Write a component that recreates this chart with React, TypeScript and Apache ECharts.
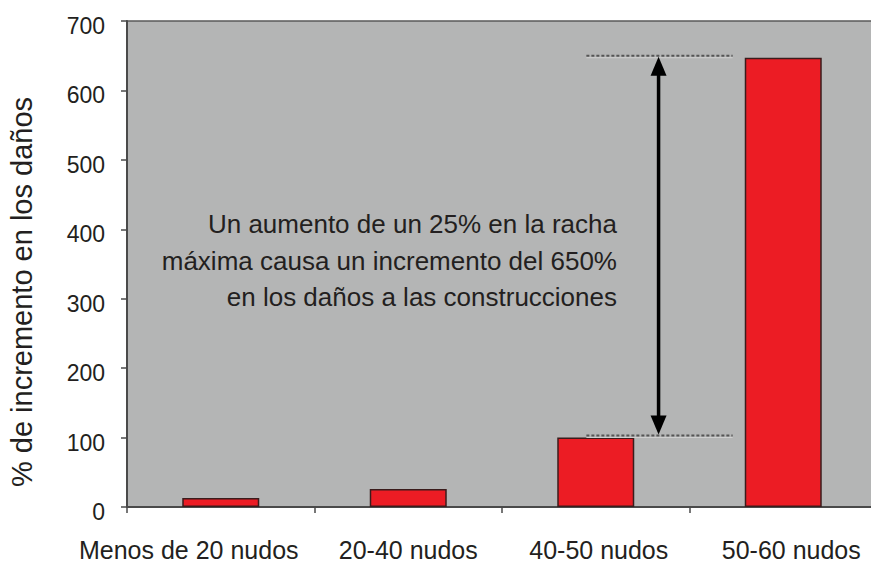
import React, { useEffect, useRef } from "react";
import * as echarts from "echarts";

const categories = ["Menos de 20 nudos", "20-40 nudos", "40-50 nudos", "50-60 nudos"];
const values = [13, 26, 100, 647];
const yTicks = [0, 100, 200, 300, 400, 500, 600, 700];
const annotationRange = [[2, 650, 103]]; // [category index, top value, bottom value]
const annotationLines = [
  "Un aumento de un 25% en la racha",
  "máxima causa un incremento del 650%",
  "en los daños a las construcciones",
];
const yAxisName = "% de incremento en los daños";

const FONT = "'Liberation Sans', Arial, Helvetica, sans-serif";
const TEXT = "#231f20";

export default function App() {
  const ref = useRef<HTMLDivElement>(null);
  useEffect(() => {
    const chart = echarts.init(ref.current!, undefined, { renderer: "svg" });
    const xl = { fontSize: 25, fontFamily: FONT, color: TEXT, lineHeight: 21 };
    chart.setOption({
      animation: false,
      backgroundColor: "#ffffff",
      textStyle: { fontFamily: FONT },
      grid: {
        left: 127,
        top: 21,
        right: -6,
        bottom: 57,
        containLabel: false,
        outerBoundsMode: "none",
        show: true,
        backgroundColor: "#b4b5b5",
        borderColor: "#5a5a5a",
        borderWidth: 1.5,
      },
      xAxis: {
        type: "category",
        data: categories,
        axisLine: { lineStyle: { color: "#4a4a4a", width: 2 } },
        axisTick: { show: true, length: 6, lineStyle: { color: "#4a4a4a", width: 1.5 } },
        axisLabel: {
          color: TEXT,
          fontSize: 25,
          lineHeight: 21,
          margin: 32,
          fontFamily: FONT,
          interval: 0,
          hideOverlap: false,
          overflow: "none",
          formatter: (v: string, i: number) => `{c${i}|${v}}`,
          rich: {
            c0: { ...xl, padding: [0, 64, 0, 0] },
            c1: { ...xl },
            c2: { ...xl, padding: [0, 0, 0, 6] },
            c3: { ...xl, padding: [0, 0, 0, 16] },
          },
        },
        splitLine: { show: false },
      },
      yAxis: {
        type: "value",
        min: yTicks[0],
        max: yTicks[yTicks.length - 1],
        interval: yTicks[1] - yTicks[0],
        name: yAxisName,
        nameLocation: "middle",
        nameGap: 91,
        nameRotate: 90,
        nameTextStyle: {
          color: TEXT,
          fontSize: 29,
          fontFamily: FONT,
          padding: [0, 56, 0, 0],
        },
        axisLine: { show: true, lineStyle: { color: "#4a4a4a", width: 2 } },
        axisTick: { show: true, length: 6, lineStyle: { color: "#4a4a4a", width: 1.5 } },
        axisLabel: {
          color: TEXT,
          fontSize: 23,
          margin: 22,
          fontFamily: FONT,
          formatter: (v: number) => `{v|${v}}`,
          rich: {
            v: { fontSize: 23, fontFamily: FONT, color: TEXT, padding: [10, 0, 0, 0] },
          },
        },
        splitLine: { show: false },
      },
      series: [
        {
          type: "bar",
          data: values,
          barWidth: 77,
          itemStyle: { color: "#ec1c24", borderColor: "#3a1c1c", borderWidth: 1.5 },
          z: 2,
        },
        {
          type: "custom",
          data: annotationRange,
          z: 5,
          renderItem: (params: any, api: any) => {
            const cat = api.value(0);
            const top = api.coord([cat, api.value(1)]);
            const bot = api.coord([cat, api.value(2)]);
            const w = api.size([1, 0])[0];
            const x0 = top[0] - 0.05 * w;
            const x1 = top[0] + 0.73 * w;
            const ax = top[0] + 0.335 * w;
            const headH = 20;
            const headW = 8;
            return {
              type: "group",
              children: [
                {
                  type: "line",
                  shape: { x1: x0, y1: top[1] + 2, x2: x1, y2: top[1] + 2 },
                  style: { stroke: "#d0d0d0", lineWidth: 1 },
                },
                {
                  type: "line",
                  shape: { x1: x0, y1: top[1], x2: x1, y2: top[1] },
                  style: { stroke: "#555555", lineWidth: 2, lineDash: [3, 2] },
                },
                {
                  type: "line",
                  shape: { x1: x0, y1: bot[1] + 2, x2: x1, y2: bot[1] + 2 },
                  style: { stroke: "#d0d0d0", lineWidth: 1 },
                },
                {
                  type: "line",
                  shape: { x1: x0, y1: bot[1], x2: x1, y2: bot[1] },
                  style: { stroke: "#555555", lineWidth: 2, lineDash: [3, 2] },
                },
                {
                  type: "line",
                  shape: { x1: ax, y1: top[1] + headH - 2, x2: ax, y2: bot[1] - headH + 2 },
                  style: { stroke: "#000000", lineWidth: 3.5 },
                },
                {
                  type: "polygon",
                  shape: {
                    points: [
                      [ax, top[1] + 1],
                      [ax - headW, top[1] + headH],
                      [ax + headW, top[1] + headH],
                    ],
                  },
                  style: { fill: "#000000" },
                },
                {
                  type: "polygon",
                  shape: {
                    points: [
                      [ax, bot[1] - 1],
                      [ax - headW, bot[1] - headH],
                      [ax + headW, bot[1] - headH],
                    ],
                  },
                  style: { fill: "#000000" },
                },
              ],
            };
          },
        },
      ],
      graphic: [
        {
          type: "text",
          x: 617,
          y: 206,
          z: 10,
          style: {
            text: annotationLines.join("\n"),
            align: "right",
            verticalAlign: "top",
            fontSize: 26,
            lineHeight: 36.5,
            fontFamily: FONT,
            fill: TEXT,
          },
        },
      ],
    });
    return () => chart.dispose();
  }, []);
  return (
    <div
      ref={ref}
      style={{ position: "absolute", left: 0, top: 0, width: 871, height: 564 }}
    />
  );
}
